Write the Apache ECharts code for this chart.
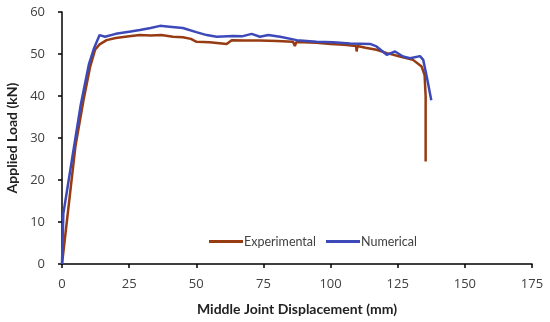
<!DOCTYPE html>
<html><head><meta charset="utf-8">
<script src="https://cdn.jsdelivr.net/npm/echarts@6/dist/echarts.min.js"></script>
<style>html,body{margin:0;padding:0;background:#fff}#c{width:550px;height:322px}</style>
</head><body><div id="c"></div>
<script>
var expX = [0, 5, 8, 10.5, 12.3, 14, 16.6, 20, 25, 29, 33, 37, 41.3, 45, 48, 50.1, 55, 61.3, 63.2, 68, 73.7, 80, 86, 86.7, 87.2, 90, 94.8, 100, 105, 109.5, 109.7, 110, 113, 117.1, 121, 125.8, 130.7, 133.9, 135, 135.4, 135.4];
var expY = [0, 28, 39, 47, 51, 52.3, 53.3, 53.8, 54.2, 54.5, 54.4, 54.5, 54.1, 54.0, 53.6, 52.9, 52.8, 52.4, 53.3, 53.2, 53.2, 53.1, 52.9, 51.9, 52.8, 52.8, 52.7, 52.4, 52.2, 51.9, 50.6, 51.9, 51.5, 51.0, 50.2, 49.4, 48.6, 47, 45, 40, 24.4];
var numX = [0, 0.5, 4, 7, 10, 12, 14, 16, 20, 25, 29, 33, 36.5, 40, 45, 50, 53.9, 57.6, 63.7, 67, 70.6, 73.7, 76.8, 81.2, 87.4, 94.8, 101, 107.2, 114.7, 117.1, 120.9, 124, 127, 129.6, 133.3, 134.5, 136, 137.5];
var numY = [0, 12, 26, 38, 47.5, 51.5, 54.5, 54.1, 54.8, 55.3, 55.7, 56.2, 56.7, 56.5, 56.2, 55.2, 54.5, 54.1, 54.3, 54.2, 54.8, 54.1, 54.5, 54.1, 53.3, 52.9, 52.8, 52.5, 52.4, 51.8, 49.8, 50.6, 49.4, 49, 49.5, 48.6, 44, 39];
var seriesNames = ['Experimental', 'Numerical'];
var xTitle = 'Middle Joint Displacement (mm)';
var yTitle = 'Applied Load (kN)';

function pairs(xs, ys){ return xs.map(function(x,i){ return [x, ys[i]]; }); }

var chart = echarts.init(document.getElementById('c'));
chart.setOption({
  animation: false,
  grid: {left: 62, right: 18, top: 12, bottom: 58, containLabel: false, outerBoundsMode: 'none'},
  legend: {
    left: 204, top: 230, itemWidth: 34, itemHeight: 3, itemGap: 10, icon: 'rect',
    textStyle: {fontFamily: 'Lato', fontSize: 12.5, color: '#404040', padding: [0,0,0,-4]},
    data: seriesNames
  },
  xAxis: {
    type: 'value', min: 0, max: 175, interval: 25,
    name: xTitle, nameLocation: 'middle', nameGap: 38,
    nameTextStyle: {fontFamily: 'Lato', fontWeight: 'bold', fontSize: 14, color: '#222'},
    axisLine: {lineStyle: {color: '#000', width: 1.5}},
    axisTick: {show: true, length: 4, lineStyle: {color: '#000', width: 1.5}},
    axisLabel: {fontFamily: 'Open Sans', fontSize: 13, color: '#404040', margin: 14},
    splitLine: {show: false}
  },
  yAxis: {
    type: 'value', min: 0, max: 60, interval: 10,
    name: yTitle, nameLocation: 'middle', nameGap: 43,
    nameTextStyle: {fontFamily: 'Lato', fontWeight: 'bold', fontSize: 14, color: '#222'},
    axisLine: {show: true, lineStyle: {color: '#000', width: 1.5}},
    axisTick: {show: true, length: 4, lineStyle: {color: '#000', width: 1.5}},
    axisLabel: {fontFamily: 'Open Sans', fontSize: 13, color: '#404040', margin: 17},
    splitLine: {show: false}
  },
  series: [
    {name: seriesNames[0], type: 'line', symbol: 'none', data: pairs(expX, expY),
     lineStyle: {color: '#963b12', width: 2.5}, itemStyle: {color: '#963b12'}, z: 2},
    {name: seriesNames[1], type: 'line', symbol: 'none', data: pairs(numX, numY),
     lineStyle: {color: '#3d49b8', width: 2.5}, itemStyle: {color: '#3d49b8'}, z: 3}
  ]
});
</script></body></html>
